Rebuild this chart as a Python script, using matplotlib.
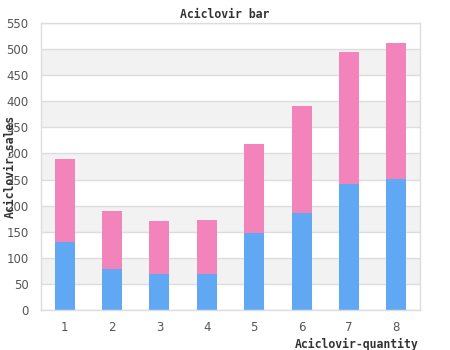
import matplotlib
matplotlib.use("Agg")
import matplotlib.pyplot as plt
import numpy as np

categories = ["1", "2", "3", "4", "5", "6", "7", "8"]
series_blue = [130, 79, 69, 69, 148, 186, 242, 251]
series_pink = [159, 111, 102, 104, 170, 205, 252, 261]
y_ticks = [0, 50, 100, 150, 200, 250, 300, 350, 400, 450, 500, 550]

fig = plt.figure(figsize=(4.5, 3.5), dpi=100)
ax = fig.add_axes([41/450, 40/350, 379/450, 287/350])

x = np.arange(len(categories))
# alternating background bands
for lo in range(50, 550, 100):
    ax.axhspan(lo, lo + 50, color="#f2f2f2", zorder=0, lw=0)
for t in y_ticks:
    ax.axhline(t, color="#dddddd", lw=1, zorder=1)

ax.bar(x, series_blue, width=0.42, color="#60a8f4", zorder=2)
ax.bar(x, series_pink, width=0.42, bottom=series_blue, color="#f283bb", zorder=2)

ax.set_xlim(-0.5, len(categories) - 0.5)
ax.set_ylim(0, 550)
ax.set_xticks(x)
ax.set_xticklabels(categories)
ax.set_yticks(y_ticks)
ax.tick_params(axis="both", length=0, labelsize=8.5, colors="#555555")
ax.tick_params(axis="y", pad=9)
ax.tick_params(axis="x", pad=8)
for s in ax.spines.values():
    s.set_color("#dddddd")
    s.set_linewidth(1)

lab = {"family": "DejaVu Sans Mono", "weight": "bold", "fontsize": 8.3, "color": "#333333"}
fig.text(225/450, (350 - 14)/350, "Aciclovir bar", ha="center", va="center", **lab)
fig.text(10/450, (350 - 166.5)/350, "Aciclovir-sales", rotation=90,
         ha="center", va="center", **lab)
fig.text(419/450, (350 - 344)/350, "Aciclovir-quantity", ha="right", va="center", **lab)

fig.savefig("out.png", dpi=100)
